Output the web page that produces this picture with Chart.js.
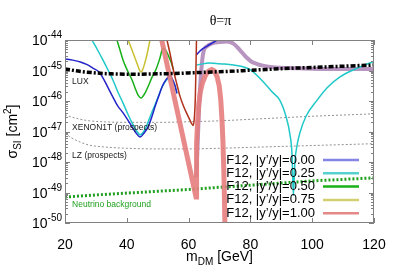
<!DOCTYPE html>
<html>
<head>
  <title>sigma_SI vs m_DM, theta=pi</title>
  <script src="https://cdn.jsdelivr.net/npm/chart.js"></script>
  <style>
    body { margin: 0; background: #fff; }
  </style>
</head>
<body>
  <canvas id="chart" width="399" height="279"></canvas>

  <script>
    // axis ticks
    const xTicks = [20, 40, 60, 80, 100, 120];
    const yDecades = [-50, -49, -48, -47, -46, -45, -44];
    const legendLabels = ['F12, |y’/y|=0.00', 'F12, |y’/y|=0.25', 'F12, |y’/y|=0.50', 'F12, |y’/y|=0.75', 'F12, |y’/y|=1.00'];

    // curves: m_DM [GeV] and log10(sigma_SI / cm^2) (null = hidden under the 1.00 line)
    const blueX = [20, 22.5, 25, 27, 29, 31, 32.5, 34, 35.5, 37, 38.8, 40.3, 41.7, 43, 44.3, 45.6, 46.9, 48, 49.1, 50.3, 51.4, 52.7, 54, 55.6, 56.2, 59, 62.6, 64, 66, 68, 70];
    const blueLog = [-44.62, -44.66, -44.72, -44.8, -44.92, -45.05, -45.28, -45.58, -45.87, -46.15, -46.39, -46.62, -46.85, -47.05, -47.18, -47.05, -46.85, -46.55, -46.2, -45.85, -45.54, -45.3, -45.18, -45.5, -45.75, null, -44.48, -44.33, -44.2, -44.08, -43.95];

    const cyanX = [28.7, 30.5, 32.3, 34, 35.5, 37, 38.8, 40.3, 41.7, 43, 44.3, 45.5, 46.5, 47.8, 49.1, 50.3, 51.4, 52.5, 53.5, 54.5, 55.6, 56.2, 59, 62.6, 67, 70, 74.5, 80, 84.5, 87, 89.5, 91.5, 92.8, 93.5, 93.9, 94.4, 95.2, 96, 98, 101.6, 105, 109, 114, 120];
    const cyanLog = [-44.0, -44.32, -44.66, -45.0, -45.31, -45.68, -46.07, -46.42, -46.72, -46.95, -47.11, -47.0, -46.79, -46.45, -46.13, -45.82, -45.54, -45.35, -45.27, -45.32, -45.5, -45.75, null, -44.82, -44.75, -44.78, -44.82, -44.98, -45.41, -45.7, -45.97, -46.5, -47.1, -47.8, -49.1, -48.0, -47.4, -47.05, -46.5, -45.97, -45.55, -45.21, -44.95, -44.7];

    const greenX = [36.8, 37.8, 38.8, 40.2, 41.7, 42.7, 43.6, 44.6, 45.9, 47, 48.2, 49.5, 50.7, 51.7, 52.7, 53.6, 54.6, 55];
    const greenLog = [-44.0, -44.33, -44.66, -45.0, -45.31, -45.58, -45.8, -45.9, -45.74, -45.5, -45.21, -44.95, -44.6, -44.27, -44.35, -44.55, -44.8, -44.95];

    const yellowX = [40.4, 41.5, 42.5, 43.5, 44.1, 44.6, 45.1, 45.7, 46.6, 47.5];
    const yellowLog = [-44.0, -44.28, -44.55, -44.82, -44.98, -45.05, -44.98, -44.8, -44.45, -44.0];

    const brownX = [53.0, 54, 55, 56.2, 57.2, 58.4, 59.5, 60.4, 61.1, 61.5, 61.9, 62.2, 62.4, 62.55];
    const brownLog = [-44.0, -44.45, -44.95, -45.45, -45.84, -46.18, -46.43, -46.62, -46.76, -46.8, -46.5, -45.8, -44.8, -44.0];

    const pinkX = [51.3, 57, 62.4, 62.5, 62.65, 62.9, 63.3, 63.8, 64.5, 65.5, 66.5, 67.5, 68.4, 69.2, 69.9, 70.4, 70.8, 71.1, 71.4, 71.6, 71.8];
    const pinkLog = [-44.0, -46.64, -49.15, -48.3, -47.4, -46.7, -46.1, -45.7, -45.4, -45.15, -45.02, -44.97, -45.02, -45.2, -45.5, -45.95, -46.6, -47.3, -48.3, -49.2, -50.3];

    const mauveX = [62.5, 63, 63.7, 64.7, 66, 67.9, 70, 72.4, 74.5, 76.6, 78.5, 80.5, 82, 84, 88, 92, 96, 100, 110, 120];
    const mauveLog = [-48.5, -47.2, -45.6, -44.45, -44.2, -44.1, -44.07, -44.05, -44.12, -44.33, -44.55, -44.72, -44.78, -44.84, -44.9, -44.92, -44.93, -44.94, -44.95, -44.95];

    // experimental bounds
    const luxX = [20, 25, 30, 35, 40, 45, 50, 55, 60, 65, 70, 75, 80, 85, 90, 95, 100, 105, 110, 115, 120];
    const luxLog = [-44.95, -45.03, -45.08, -45.11, -45.12, -45.12, -45.11, -45.1, -45.08, -45.06, -45.04, -45.02, -44.99, -44.97, -44.94, -44.92, -44.9, -44.88, -44.86, -44.84, -44.82];

    const xenonX = [20, 22, 25, 28, 32, 40, 50, 60, 70, 80, 90, 100, 110, 120];
    const xenonLog = [-46.45, -46.52, -46.6, -46.65, -46.68, -46.7, -46.7, -46.68, -46.65, -46.6, -46.55, -46.5, -46.46, -46.42];

    const lzX = [20, 22, 25, 28, 32, 40, 50, 60, 70, 80, 90, 100, 110, 120];
    const lzLog = [-47.05, -47.2, -47.35, -47.45, -47.5, -47.55, -47.57, -47.57, -47.55, -47.52, -47.49, -47.46, -47.43, -47.4];

    const nuX = [20, 30, 40, 50, 60, 70, 80, 90, 100, 110, 120];
    const nuLog = [-49.15, -49.08, -49.02, -48.96, -48.9, -48.83, -48.76, -48.69, -48.62, -48.57, -48.52];

    // in-plot labels: [text, m_DM, log10 sigma]
    const boundLabels = [
      ['LUX', 22.3, -45.38],
      ['XENON1T (prospects)', 22.3, -46.89],
      ['LZ (prospects)', 22.3, -47.8],
      ['Neutrino background', 22.3, -49.41]
    ];

    const legendColors = ['#8484e4', '#58d0d0', '#18b018', '#d4d070', '#e48888'];
    const FONT = '"Liberation Sans", Arial, sans-serif';

    function series(label, xs, logs, color, width, order, dash, straight) {
      return {
        label: label,
        data: xs.map((v, i) => ({ x: v, y: logs[i] === null ? null : Math.pow(10, logs[i]) })),
        borderColor: color,
        borderWidth: width,
        borderDash: dash || [],
        order: order,
        pointRadius: 0,
        fill: false,
        clip: 0,
        spanGaps: false,
        tension: 0,
        cubicInterpolationMode: straight ? 'default' : 'monotone'
      };
    }

    // draws texts with sub/superscripts, left to right from x0
    function drawPieces(ctx, pieces, x0, y0) {
      let x = x0;
      pieces.forEach(p => {
        ctx.font = p[1] + 'px ' + FONT;
        ctx.fillText(p[0], x, y0 + p[2]);
        x += ctx.measureText(p[0]).width;
      });
    }
    function piecesWidth(ctx, pieces) {
      let w = 0;
      pieces.forEach(p => { ctx.font = p[1] + 'px ' + FONT; w += ctx.measureText(p[0]).width; });
      return w;
    }

    const decor = {
      id: 'decor',
      afterDraw(chart) {
        const { ctx, chartArea: a, scales } = chart;
        const x = scales.x, y = scales.y;
        ctx.save();

        // frame + inward ticks
        ctx.strokeStyle = '#808080';
        ctx.lineWidth = 1;
        ctx.strokeRect(a.left + 0.5, a.top + 0.5, a.right - a.left - 1, a.bottom - a.top - 1);
        ctx.beginPath();
        xTicks.forEach(v => {
          const px = Math.round(x.getPixelForValue(v)) + 0.5;
          ctx.moveTo(px, a.bottom); ctx.lineTo(px, a.bottom - 5);
          ctx.moveTo(px, a.top); ctx.lineTo(px, a.top + 5);
        });
        yDecades.forEach(e => {
          for (let m = 1; m < 10; m++) {
            if (e === -44 && m > 1) break;
            const py = Math.round(y.getPixelForValue(m * Math.pow(10, e))) + 0.5;
            const len = m === 1 ? 5 : 3;
            ctx.moveTo(a.left, py); ctx.lineTo(a.left + len, py);
            ctx.moveTo(a.right, py); ctx.lineTo(a.right - len, py);
          }
        });
        ctx.stroke();

        // y tick labels 10^n
        ctx.fillStyle = '#000';
        ctx.textBaseline = 'alphabetic';
        yDecades.forEach(e => {
          const py = y.getPixelForValue(Math.pow(10, e));
          const lab = [['10', 14, 0], [String(e), 10, -7]];
          drawPieces(ctx, lab, a.left - 3 - piecesWidth(ctx, lab), py + 5);
        });

        // bound labels
        ctx.textBaseline = 'middle';
        ctx.textAlign = 'left';
        ctx.font = '8.5px ' + FONT;
        boundLabels.forEach((b, i) => {
          ctx.fillStyle = i === 3 ? '#20a020' : '#202020';
          ctx.fillText(b[0], x.getPixelForValue(b[1]), y.getPixelForValue(Math.pow(10, b[2])));
        });

        // legend (text then line sample, bottom right)
        ctx.font = '13px ' + FONT;
        ctx.textAlign = 'right';
        ctx.fillStyle = '#000';
        legendLabels.forEach((t, i) => {
          const ry = a.bottom - 63 + i * 13.3;
          ctx.fillText(t, a.right - 59, ry);
          ctx.strokeStyle = legendColors[i];
          ctx.lineWidth = 2.5;
          ctx.beginPath();
          ctx.moveTo(a.right - 51, ry); ctx.lineTo(a.right - 15, ry);
          ctx.stroke();
        });

        // title
        ctx.textAlign = 'center';
        ctx.textBaseline = 'alphabetic';
        ctx.font = '14px "Liberation Serif", serif';
        ctx.fillText('θ=π', (a.left + a.right) / 2 + 1, a.top - 15);

        // x axis title
        ctx.textAlign = 'left';
        const xt = [['m', 14, 0], ['DM', 10, 4], [' [GeV]', 14, 0]];
        drawPieces(ctx, xt, (a.left + a.right) / 2 - piecesWidth(ctx, xt) / 2, a.bottom + 38);

        // y axis title
        const yt = [['σ', 14, 0], ['SI', 10, 4], [' [cm', 14, 0], ['2', 10, -6], [']', 14, 0]];
        ctx.translate(17, (a.top + a.bottom) / 2);
        ctx.rotate(-Math.PI / 2);
        drawPieces(ctx, yt, -piecesWidth(ctx, yt) / 2, 0);
        ctx.restore();
      }
    };

    new Chart(document.getElementById('chart'), {
      type: 'line',
      data: {
        datasets: [
          series('LUX', luxX, luxLog, '#000000', 3.5, 0, [5, 2, 2, 2]),
          series(legendLabels[4], pinkX, pinkLog, 'rgba(230,125,125,0.9)', 5, 1, null, true),
          series('dip', brownX, brownLog, '#b0301a', 1.5, 2),
          series(legendLabels[0], blueX, blueLog, '#2424c8', 1.5, 3),
          series(legendLabels[1], cyanX, cyanLog, '#20c8c8', 1.5, 4),
          series(legendLabels[2], greenX, greenLog, '#18b018', 1.5, 5),
          series(legendLabels[3], yellowX, yellowLog, '#c8c030', 1.5, 6),
          series('bump', mauveX, mauveLog, '#b894c0', 4, 7),
          series('Neutrino background', nuX, nuLog, '#20a020', 3, 8, [2, 2]),
          series('XENON1T', xenonX, xenonLog, '#909090', 1, 9, [2, 2]),
          series('LZ', lzX, lzLog, '#909090', 1, 10, [2, 2])
        ]
      },
      options: {
        responsive: false,
        animation: false,
        layout: { padding: { top: 40, right: 25, left: 0, bottom: 0 } },
        plugins: {
          legend: { display: false },
          tooltip: { enabled: false }
        },
        scales: {
          x: {
            type: 'linear',
            min: 20,
            max: 120,
            grid: { display: false },
            border: { display: false },
            afterBuildTicks: s => { s.ticks = xTicks.map(v => ({ value: v })); },
            afterFit: s => { s.height = 56; },
            ticks: { color: '#000', padding: 6, font: { size: 14, family: FONT }, maxRotation: 0 }
          },
          y: {
            type: 'logarithmic',
            min: 1e-50,
            max: 1e-44,
            grid: { display: false },
            border: { display: false },
            afterBuildTicks: s => { s.ticks = yDecades.map(e => ({ value: Math.pow(10, e) })); },
            afterFit: s => { s.width = 65; },
            ticks: { display: false }
          }
        }
      },
      plugins: [decor]
    });
  </script>
</body>
</html>
